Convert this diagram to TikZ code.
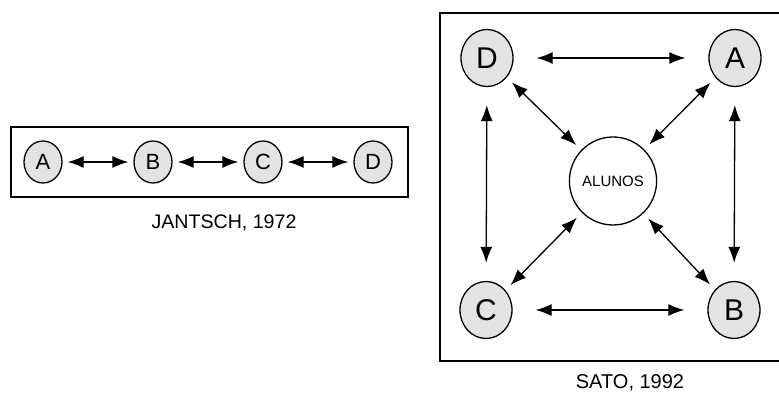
\documentclass[tikz,border=0pt]{standalone}
\usepackage{fontspec}
\setmainfont{Liberation Sans}
\usetikzlibrary{arrows.meta,shapes.geometric}

\begin{document}
\begin{tikzpicture}[x=1pt,y=-1pt,>={Latex[length=16pt,width=12pt]},
    letter/.style={ellipse,draw,line width=1.3pt,fill=gray!22,inner sep=0pt},
    small/.style={letter,minimum width=38pt,minimum height=42pt,font=\fontsize{22}{22}\selectfont},
    big/.style={letter,minimum width=52pt,minimum height=57pt,font=\fontsize{30}{30}\selectfont},
    link/.style={<->,line width=1.3pt,shorten <=#1,shorten >=#1},
    frame/.style={line width=1.7pt}]
    \useasboundingbox (0,0) rectangle (779,395);

    % JANTSCH
    \draw[frame] (11,127) rectangle (408,197);
    \node[small] (ja) at (43,162) {A};
    \node[small] (jb) at (153,162) {B};
    \node[small] (jc) at (263,162) {C};
    \node[small] (jd) at (373,162) {D};
    \draw[link=5pt] (ja) -- (jb);
    \draw[link=5pt] (jb) -- (jc);
    \draw[link=5pt] (jc) -- (jd);
    \node[font=\fontsize{19.6}{20}\selectfont] (jantsch) at (224,223) {JANTSCH, 1972};

    % SATO
    \draw[frame] (440,13) rectangle (795,361);
    \node[big] (sd) at (487,58) {D};
    \node[big] (sa) at (735,58) {A};
    \node[big] (sc) at (486,310) {C};
    \node[big] (sb) at (734,310) {B};
    \node[ellipse,draw,line width=1.3pt,fill=white,minimum width=80pt,minimum height=88pt,
        inner sep=0pt,font=\fontsize{15}{15}\selectfont] (alunos) at (613,181) {ALUNOS};
    \draw[link=23pt] (sd) -- (sa);
    \draw[link=23pt] (sc) -- (sb);
    \draw[link=18pt] (sd) -- (sc);
    \draw[link=18pt] (sa) -- (sb);
    \foreach \n in {sd,sa,sc,sb}
        \draw[link=7pt] (\n) -- (alunos);
    \node[font=\fontsize{20}{20}\selectfont] (sato) at (630,383) {SATO, 1992};
\end{tikzpicture}
\end{document}
